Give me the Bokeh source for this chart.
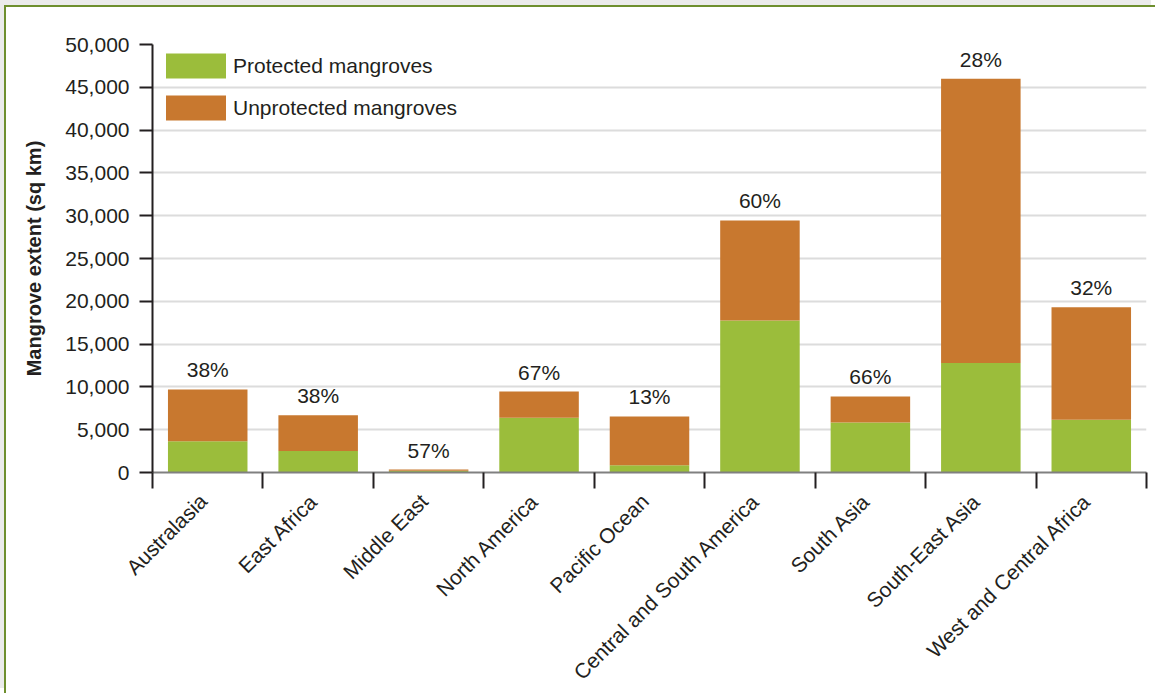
import math
from bokeh.plotting import figure
from bokeh.models import ColumnDataSource, Range1d, FixedTicker, NumeralTickFormatter, Legend, LegendItem
from bokeh.core.properties import value
from bokeh.embed import file_html
from bokeh.resources import INLINE

regions = ["Australasia", "East Africa", "Middle East", "North America", "Pacific Ocean",
           "Central and South America", "South Asia", "South-East Asia", "West and Central Africa"]
protected = [3650, 2500, 200, 6400, 850, 17750, 5850, 12800, 6150]
unprotected = [6050, 4200, 150, 3050, 5700, 11700, 3030, 33200, 13150]
percent_protected = [38, 38, 57, 67, 13, 60, 66, 28, 32]
y_ticks = [0, 5000, 10000, 15000, 20000, 25000, 30000, 35000, 40000, 45000, 50000]

FONT = "Liberation Sans"
GREEN = "#9bbd3b"
ORANGE = "#c8782f"
TXT = "#231f20"
FS = "21px"
LABEL_SHIFT = 0.04  # nudge rotated category labels so their ends sit on the bar centres

xs = [i + 0.5 for i in range(len(regions))]
totals = [a + b for a, b in zip(protected, unprotected)]
src = ColumnDataSource(dict(x=xs, protected=protected, unprotected=unprotected,
                            total=totals, label=[f"{v}%" for v in percent_protected]))

p = figure(width=1151, height=688, output_backend="svg", toolbar_location=None,
           x_range=Range1d(0, len(regions)), y_range=Range1d(0, 50000),
           min_border_left=146, min_border_top=37, min_border_right=11, min_border_bottom=223)
p.styles = {"border-top": "2px solid #6e8f2e", "border-left": "2px solid #6e8f2e",
            "margin-top": "5px", "margin-left": "4px",
            "box-shadow": "-4px -5px 0 0 #ebebeb"}
p.outline_line_color = None
p.background_fill_color = "white"
p.border_fill_color = "white"

rs = p.vbar_stack(["protected", "unprotected"], x="x", width=0.72, source=src,
                  color=[GREEN, ORANGE], line_color=None)

p.text(x="x", y="total", text="label", source=src, text_align="center", text_baseline="bottom",
       y_offset=-8, text_font=value(FONT), text_font_size=FS, text_color=TXT)

# x axis
label_pos = [x - LABEL_SHIFT for x in xs]
xa = p.xaxis[0]
xa.ticker = FixedTicker(ticks=label_pos, minor_ticks=list(range(len(regions) + 1)))
xa.major_label_overrides = {x: r for x, r in zip(label_pos, regions)}
xa.major_label_orientation = math.pi / 4
xa.major_tick_line_color = None
xa.major_tick_out = 0
xa.major_tick_in = 0
xa.minor_tick_line_color = TXT
xa.minor_tick_line_width = 2
xa.minor_tick_out = 16
xa.minor_tick_in = 0
xa.axis_line_color = "#808080"
xa.axis_line_width = 2
xa.major_label_text_font = FONT
xa.major_label_text_font_size = FS
xa.major_label_text_color = TXT
xa.major_label_standoff = 9

# y axis
ya = p.yaxis[0]
ya.ticker = FixedTicker(ticks=y_ticks)
ya.formatter = NumeralTickFormatter(format="0,0")
ya.minor_tick_line_color = None
ya.major_tick_out = 13
ya.major_tick_in = 0
ya.major_tick_line_width = 2
ya.major_tick_line_color = TXT
ya.axis_line_color = TXT
ya.axis_line_width = 2
ya.major_label_text_font = FONT
ya.major_label_text_font_size = FS
ya.major_label_text_color = TXT
ya.major_label_standoff = 10
ya.axis_label = "Mangrove extent (sq km)"
ya.axis_label_text_font = FONT
ya.axis_label_text_font_size = "20px"
ya.axis_label_text_font_style = "bold"
ya.axis_label_text_color = TXT
ya.axis_label_standoff = 17

p.xgrid.grid_line_color = None
p.ygrid.ticker = FixedTicker(ticks=y_ticks)
p.ygrid.grid_line_color = "#dcdcdc"
p.ygrid.grid_line_width = 2

p.legend.visible = False
legend = Legend(items=[LegendItem(label="Protected mangroves", renderers=[rs[0]]),
                       LegendItem(label="Unprotected mangroves", renderers=[rs[1]])],
                location="top_left", margin=6, padding=0, spacing=11,
                glyph_width=75, glyph_height=31, label_standoff=0,
                label_text_font=FONT, label_text_font_size=FS, label_text_color=TXT,
                background_fill_alpha=0, border_line_color=None)
p.add_layout(legend)

open("out.html", "w").write(file_html(p, INLINE))
